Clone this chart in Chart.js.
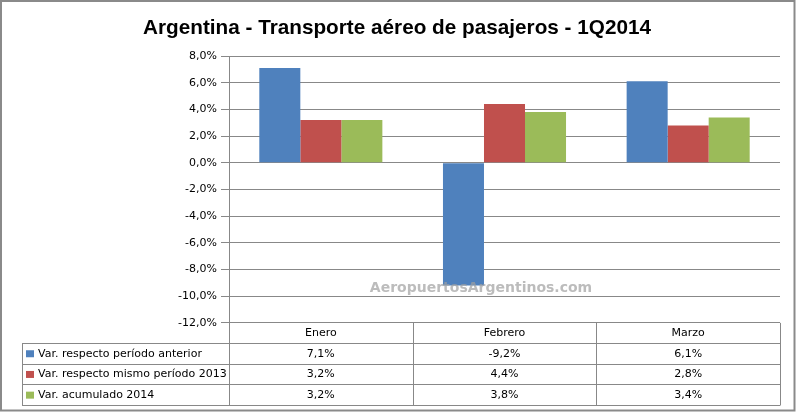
<!DOCTYPE html>
<html>
<head>
<meta charset="utf-8">
<script src="https://cdn.jsdelivr.net/npm/chart.js@4.4.0/dist/chart.umd.min.js"></script>
<style>
  html, body { margin: 0; padding: 0; background: #fff; }
</style>
</head>
<body>
<canvas id="chart" width="796" height="414"></canvas>
<script>
//------datos
const months = ['Enero', 'Febrero', 'Marzo'];
const seriesNames = ['Var. respecto período anterior', 'Var. respecto mismo período 2013', 'Var. acumulado 2014'];
const varAnterior = [7.1, -9.2, 6.1];
const varMismo2013 = [3.2, 4.4, 2.8];
const varAcumulado = [3.2, 3.8, 3.4];
const yMin = -12, yMax = 8, yStep = 2;
const titleText = 'Argentina - Transporte aéreo de pasajeros - 1Q2014';

const colors = ['#4F81BD', '#C0504D', '#9BBB59'];
const gridColor = '#888888';
const font = '"DejaVu Sans", Verdana, sans-serif';
const tableFontSize = 11;
const rowH = 20.7;     // alto de filas de la tabla
const headH = 20;      // fila de meses
const legendLeft = 22; // borde izquierdo de la tabla

const fmt = v => v.toFixed(1).replace('.', ',') + '%';
const allSeries = [varAnterior, varMismo2013, varAcumulado];

//------plugins
const background = {
    id: 'background',
    beforeDraw(chart) {
        const ctx = chart.ctx;
        ctx.save();
        ctx.fillStyle = '#fff';
        ctx.fillRect(0, 0, chart.width, chart.height);
        ctx.restore();
    }
};

// titulo angosto (tipo Calibri): se comprime en horizontal
const narrowTitle = {
    id: 'narrowTitle',
    afterDraw(chart) {
        const ctx = chart.ctx;
        ctx.save();
        ctx.font = 'bold 20.5px "Liberation Sans", Arial, sans-serif';
        ctx.fillStyle = '#000';
        ctx.textBaseline = 'alphabetic';
        ctx.textAlign = 'center';
        const w = ctx.measureText(titleText).width;
        const sx = 508 / w;
        ctx.translate(397, 34);
        ctx.scale(sx, 1);
        ctx.fillText(titleText, 0, 0);
        ctx.restore();
    }
};

const watermark = {
    id: 'watermark',
    afterDatasetsDraw(chart) {
        const ctx = chart.ctx;
        ctx.save();
        ctx.font = 'bold 14px ' + font;
        ctx.fillStyle = 'rgba(160,160,160,0.7)';
        ctx.textAlign = 'center';
        ctx.textBaseline = 'alphabetic';
        ctx.fillText('AeropuertosArgentinos.com', 481, 292);
        ctx.restore();
    }
};

const dataTable = {
    id: 'dataTable',
    afterDraw(chart) {
        const ctx = chart.ctx;
        const area = chart.chartArea;
        const x = chart.scales.x;
        const colW = (area.right - area.left) / months.length;
        const top = area.bottom;
        const bottom = top + headH + rowH * 3;
        const px = v => Math.round(v) + 0.5;

        ctx.save();
        ctx.strokeStyle = gridColor;
        ctx.lineWidth = 1;
        ctx.beginPath();
        // lineas horizontales
        for (let r = 0; r <= 3; r++) {
            const y = px(top + headH + r * rowH);
            ctx.moveTo(legendLeft, y);
            ctx.lineTo(area.right, y);
        }
        // lineas verticales
        for (let i = 0; i <= months.length; i++) {
            const xx = px(area.left + i * colW);
            ctx.moveTo(xx, top);
            ctx.lineTo(xx, px(bottom));
        }
        ctx.moveTo(px(legendLeft), px(top + headH));
        ctx.lineTo(px(legendLeft), px(bottom));
        ctx.stroke();

        ctx.font = tableFontSize + 'px ' + font;
        ctx.fillStyle = '#000';
        ctx.textBaseline = 'middle';
        for (let s = 0; s < allSeries.length; s++) {
            const yc = top + headH + rowH * s + rowH / 2 + 0.5;
            // leyenda
            ctx.fillStyle = colors[s];
            ctx.fillRect(legendLeft + 4, yc - 3.5, 8, 7);
            ctx.fillStyle = '#000';
            ctx.textAlign = 'left';
            ctx.fillText(seriesNames[s], legendLeft + 16, yc);
            // valores
            ctx.textAlign = 'center';
            for (let i = 0; i < months.length; i++) {
                ctx.fillText(fmt(allSeries[s][i]), x.getPixelForValue(i), yc);
            }
        }
        ctx.restore();
    }
};

//------chart
const config = {
    type: 'bar',
    data: {
        labels: months,
        datasets: allSeries.map((d, i) => ({
            label: seriesNames[i],
            data: d,
            backgroundColor: colors[i],
            borderWidth: 0,
            barPercentage: 1.0,
            categoryPercentage: 0.67
        }))
    },
    options: {
        responsive: false,
        animation: false,
        layout: {
            padding: { top: 56, right: 16, bottom: 9, left: 0 }
        },
        plugins: {
            legend: { display: false },
            tooltip: { enabled: false },
            title: { display: false }
        },
        scales: {
            x: {
                grid: { display: false, drawTicks: false },
                border: { display: false },
                ticks: {
                    color: '#000',
                    font: { family: font, size: tableFontSize },
                    padding: 4
                },
                afterFit(scale) { scale.height = headH + rowH * 3; }
            },
            y: {
                min: yMin,
                max: yMax,
                grid: { color: gridColor, tickLength: 8 },
                border: { display: true, color: gridColor },
                ticks: {
                    stepSize: yStep,
                    color: '#000',
                    font: { family: font, size: tableFontSize },
                    padding: 4,
                    callback: v => fmt(v)
                },
                afterFit(scale) { scale.width = 229; }
            }
        }
    },
    plugins: [background, watermark, dataTable, narrowTitle, {
        id: 'frame',
        afterDraw(chart) {
            const ctx = chart.ctx;
            ctx.save();
            ctx.strokeStyle = '#8a8a8a';
            ctx.lineWidth = 2;
            ctx.strokeRect(1, 1, chart.width - 2.5, chart.height - 4.5);
            ctx.restore();
        }
    }]
};

var myChart = new Chart(document.getElementById('chart'), config);
</script>
</body>
</html>
